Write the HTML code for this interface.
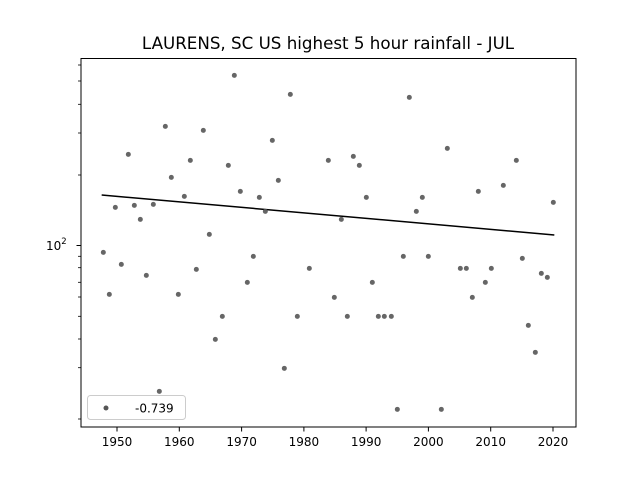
<!DOCTYPE html>
<html><head><style>body{margin:0;background:#fff}svg{display:block}text{font-family:"DejaVu Sans","Liberation Sans",sans-serif;}</style></head>
<body>
<svg width="640" height="480" xmlns="http://www.w3.org/2000/svg">
<rect width="640" height="480" fill="#fff"/>
<text x="328" y="49" font-size="16.7" text-anchor="middle" fill="#000">LAURENS, SC US highest 5 hour rainfall - JUL</text>
<g transform="translate(81,40) scale(0.33333)">
<polyline points="62,465 1420,585" stroke="#000" stroke-width="4.5" fill="none"/>
<g fill="#555" fill-opacity="0.9">
<circle cx="67" cy="637" r="7.5"/><circle cx="85" cy="763" r="7.5"/><circle cx="103" cy="502" r="7.5"/><circle cx="121" cy="673" r="7.5"/><circle cx="142" cy="343" r="7.5"/><circle cx="160" cy="496" r="7.5"/><circle cx="178" cy="538" r="7.5"/><circle cx="196" cy="706" r="7.5"/><circle cx="217" cy="493" r="7.5"/><circle cx="235" cy="1054" r="7.5"/><circle cx="253" cy="259" r="7.5"/><circle cx="271" cy="412" r="7.5"/><circle cx="292" cy="763" r="7.5"/><circle cx="310" cy="469" r="7.5"/><circle cx="328" cy="361" r="7.5"/><circle cx="346" cy="688" r="7.5"/><circle cx="367" cy="271" r="7.5"/><circle cx="385" cy="583" r="7.5"/><circle cx="403" cy="898" r="7.5"/><circle cx="424" cy="829" r="7.5"/><circle cx="442" cy="376" r="7.5"/><circle cx="460" cy="106" r="7.5"/><circle cx="478" cy="454" r="7.5"/><circle cx="499" cy="727" r="7.5"/><circle cx="517" cy="649" r="7.5"/><circle cx="535" cy="472" r="7.5"/><circle cx="553" cy="514" r="7.5"/><circle cx="574" cy="301" r="7.5"/><circle cx="592" cy="421" r="7.5"/><circle cx="610" cy="985" r="7.5"/><circle cx="628" cy="163" r="7.5"/><circle cx="649" cy="829" r="7.5"/><circle cx="685" cy="685" r="7.5"/><circle cx="742" cy="361" r="7.5"/><circle cx="760" cy="772" r="7.5"/><circle cx="781" cy="538" r="7.5"/><circle cx="799" cy="829" r="7.5"/><circle cx="817" cy="349" r="7.5"/><circle cx="835" cy="376" r="7.5"/><circle cx="856" cy="472" r="7.5"/><circle cx="874" cy="727" r="7.5"/><circle cx="892" cy="829" r="7.5"/><circle cx="910" cy="829" r="7.5"/><circle cx="931" cy="829" r="7.5"/><circle cx="949" cy="1108" r="7.5"/><circle cx="967" cy="649" r="7.5"/><circle cx="985" cy="172" r="7.5"/><circle cx="1006" cy="514" r="7.5"/><circle cx="1024" cy="472" r="7.5"/><circle cx="1042" cy="649" r="7.5"/><circle cx="1081" cy="1108" r="7.5"/><circle cx="1099" cy="325" r="7.5"/><circle cx="1138" cy="685" r="7.5"/><circle cx="1156" cy="685" r="7.5"/><circle cx="1174" cy="772" r="7.5"/><circle cx="1192" cy="454" r="7.5"/><circle cx="1213" cy="727" r="7.5"/><circle cx="1231" cy="685" r="7.5"/><circle cx="1267" cy="436" r="7.5"/><circle cx="1306" cy="361" r="7.5"/><circle cx="1324" cy="655" r="7.5"/><circle cx="1342" cy="856" r="7.5"/><circle cx="1363" cy="937" r="7.5"/><circle cx="1381" cy="700" r="7.5"/><circle cx="1399" cy="712" r="7.5"/><circle cx="1417" cy="487" r="7.5"/>
</g>
</g>
<rect x="81" y="58.5" width="495" height="368.5" fill="none" stroke="#000" stroke-width="1"/>
<g stroke="#000" stroke-width="1">
<line x1="117" y1="427" x2="117" y2="431.5"/><line x1="179.3" y1="427" x2="179.3" y2="431.5"/><line x1="241.6" y1="427" x2="241.6" y2="431.5"/><line x1="303.9" y1="427" x2="303.9" y2="431.5"/><line x1="366.1" y1="427" x2="366.1" y2="431.5"/><line x1="428.4" y1="427" x2="428.4" y2="431.5"/><line x1="490.7" y1="427" x2="490.7" y2="431.5"/><line x1="553" y1="427" x2="553" y2="431.5"/>
<line x1="76.5" y1="245.5" x2="81" y2="245.5"/>
<g stroke-width="0.8">
<line x1="78" y1="65" x2="81" y2="65"/><line x1="78" y1="81" x2="81" y2="81"/><line x1="78" y1="104.3" x2="81" y2="104.3"/><line x1="78" y1="133" x2="81" y2="133"/><line x1="78" y1="175" x2="81" y2="175"/><line x1="78" y1="256.3" x2="81" y2="256.3"/><line x1="78" y1="267.7" x2="81" y2="267.7"/><line x1="78" y1="282.3" x2="81" y2="282.3"/><line x1="78" y1="297" x2="81" y2="297"/><line x1="78" y1="316.3" x2="81" y2="316.3"/><line x1="78" y1="339" x2="81" y2="339"/><line x1="78" y1="367.7" x2="81" y2="367.7"/><line x1="78" y1="419" x2="81" y2="419"/>
</g>
</g>
<g font-size="12" fill="#000" text-anchor="middle">
<text x="117" y="446">1950</text><text x="179.3" y="446">1960</text><text x="241.6" y="446">1970</text><text x="303.9" y="446">1980</text><text x="366.1" y="446">1990</text><text x="428.4" y="446">2000</text><text x="490.7" y="446">2010</text><text x="553" y="446">2020</text>
</g>
<text x="46" y="250" font-size="12">10<tspan font-size="8.5" dy="-6">2</tspan></text>
<rect x="87.5" y="395.5" width="98" height="24" rx="3" fill="#fff" stroke="#ccc" stroke-width="1"/>
<circle cx="106" cy="408" r="2.5" fill="#555"/>
<text x="135" y="412.5" font-size="12">-0.739</text>
</svg>
</body></html>
